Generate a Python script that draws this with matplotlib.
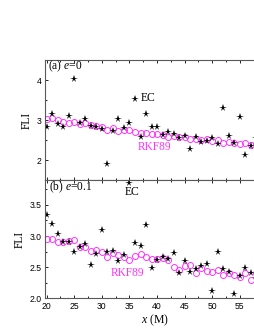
import matplotlib
matplotlib.use('Agg')
import matplotlib.pyplot as plt
import numpy as np
from matplotlib.ticker import MultipleLocator

plt.rcParams['font.family'] = 'Liberation Serif'
plt.rcParams['mathtext.fontset'] = 'custom'
plt.rcParams['mathtext.rm'] = 'Liberation Serif'
plt.rcParams['mathtext.it'] = 'Liberation Serif:italic'

# x positions (M)
x = np.arange(20, 59)

# panel (a) e=0
ec_a = [2.82, 3.15, 2.90, 2.83, 3.10, 4.02, 2.92, 3.03, 2.85, 2.83,
        2.77, 1.91, 2.73, 3.03, 2.81, 2.92, 3.53, 2.58, 3.15, 2.82,
        2.83, 2.63, 2.69, 2.64, 2.56, 2.61, 2.27, 2.58, 2.44, 2.48,
        2.54, 2.39, 3.31, 2.60, 2.42, 3.08, 2.13, 2.34, 2.55]
rkf_a = [3.02, 3.06, 2.99, 2.96, 2.92, 2.94, 2.89, 2.92, 2.87, 2.86,
         2.83, 2.74, 2.81, 2.73, 2.75, 2.75, 2.70, 2.68, 2.67, 2.64,
         2.65, 2.63, 2.58, 2.60, 2.58, 2.58, 2.53, 2.53, 2.50, 2.53,
         2.48, 2.50, 2.43, 2.46, 2.43, 2.40, 2.43, 2.37, 2.40]

# panel (b) e=0.1
ec_b = [3.34, 3.19, 3.04, 2.90, 2.91, 2.75, 2.82, 2.87, 2.53, 2.71,
        3.09, 2.74, 2.76, 2.60, 2.69, 3.86, 2.89, 2.84, 3.18, 2.48,
        2.61, 2.66, 2.63, 2.73, 2.40, 2.60, 2.42, 2.47, 2.52, 2.55,
        2.12, 2.75, 2.47, 2.42, 2.07, 2.36, 2.48, 2.40, 2.33]
rkf_b = [2.95, 2.96, 2.91, 2.90, 2.92, 2.93, 2.82, 2.83, 2.76, 2.77,
         2.74, 2.67, 2.73, 2.70, 2.67, 2.62, 2.68, 2.71, 2.67, 2.63,
         2.63, 2.65, 2.62, 2.51, 2.46, 2.52, 2.54, 2.41, 2.48, 2.44,
         2.42, 2.45, 2.38, 2.41, 2.37, 2.35, 2.40, 2.29, 2.40]

magenta = '#ff33ff'

fig = plt.figure(figsize=(2.55, 3.3), dpi=100)
# the axes run past the right edge of the picture, as in the original crop
ax_a = fig.add_axes([0.1765, 0.4545, 0.8616, 0.3636])
ax_b = fig.add_axes([0.1765, 0.096, 0.8616, 0.3585])


def style(ax):
    ax.set_xlim(19.7, 59.5)
    ax.xaxis.set_major_locator(MultipleLocator(5))
    ax.xaxis.set_minor_locator(MultipleLocator(2.5))
    ax.tick_params(which='both', direction='in', top=True, right=True,
                   width=0.6, labelsize=6.2, pad=2.5)
    ax.tick_params(which='major', length=2.5)
    ax.tick_params(which='minor', length=1.5)
    for lab in ax.get_xticklabels() + ax.get_yticklabels():
        lab.set_fontfamily('Liberation Sans')
    for s in ax.spines.values():
        s.set_linewidth(0.8)
        s.set_color('0.35')
    ax.set_ylabel('FLI', fontsize=8.3, labelpad=3)


for ax, ec, rkf in [(ax_a, ec_a, rkf_a), (ax_b, ec_b, rkf_b)]:
    ax.plot(x, rkf, 'o', mfc='none', mec=magenta, ms=4.3, mew=0.7)
    ax.plot(x, ec, '*', color='black', ms=5.4, mew=0)

ax_a.set_ylim(1.5, 4.5)
ax_a.yaxis.set_major_locator(MultipleLocator(1))
ax_a.yaxis.set_minor_locator(MultipleLocator(0.5))
ax_a.tick_params(labelbottom=False)
style(ax_a)
ax_a.text(20.3, 4.35, r'(a) $e$=0', fontsize=8.3, va='center', ha='left')
ax_a.text(37.1, 3.55, 'EC', fontsize=8.3, va='center', ha='left')
ax_a.text(39.5, 2.33, 'RKF89', fontsize=8.3, va='center', ha='center', color=magenta)

ax_b.set_ylim(2.0, 3.9)
ax_b.yaxis.set_major_locator(MultipleLocator(0.5))
ax_b.yaxis.set_minor_locator(MultipleLocator(0.25))
ax_b.yaxis.set_major_formatter(matplotlib.ticker.FormatStrFormatter('%.1f'))
style(ax_b)
ax_b.text(20.4, 3.79, r'(b) $e$=0.1', fontsize=8.3, va='center', ha='left')
ax_b.text(35.4, 3.70, 'EC', fontsize=8.3, va='center', ha='center')
ax_b.text(34.6, 2.41, 'RKF89', fontsize=8.3, va='center', ha='center', color=magenta)
ax_b.set_xlabel(r'$x$ (M)', fontsize=8.5, labelpad=1)

fig.savefig('out.png', dpi=100)
